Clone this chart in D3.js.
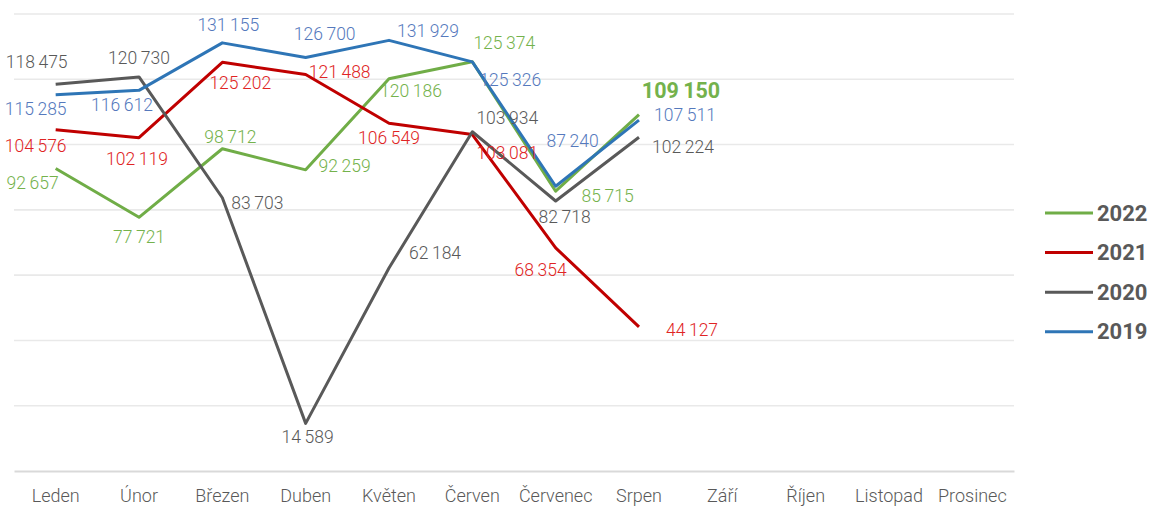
<!DOCTYPE html>
<html>
<head>
<meta charset="utf-8">
<script src="https://cdn.jsdelivr.net/npm/d3@7"></script>
<style>
  body { margin: 0; background: #fff; }
  text { font-family: Roboto, "Noto Sans", sans-serif; }
</style>
</head>
<body>
<div id="chart"></div>
<script>
// data
var months = ["Leden", "Únor", "Březen", "Duben", "Květen", "Červen", "Červenec", "Srpen", "Září", "Říjen", "Listopad", "Prosinec"];
var years = ["2022", "2021", "2020", "2019"];
var values2022 = [92657, 77721, 98712, 92259, 120186, 125374, 85715, 109150];
var values2021 = [104576, 102119, 125202, 121488, 106549, 103081, 68354, 44127];
var values2020 = [118475, 120730, 83703, 14589, 62184, 103934, 82718, 102224];
var values2019 = [115285, 116612, 131155, 126700, 131929, 125326, 87240, 107511];
var gridTicks = [0, 20000, 40000, 60000, 80000, 100000, 120000, 140000];

// label placement (pixel offsets from each point)
var labelOffsets = {
    "2022": [[-23, 14], [0, 20], [8, -12], [39, -4], [22, 12], [32, -19], [52, 5], [42, -24]],
    "2021": [[-20, 16], [-2, 21], [18, 21], [34, -2], [0, 15], [35, 18], [-15, 22], [53, 3]],
    "2020": [[-19, -22], [0, -19], [35, 5], [2, 14], [46, -15], [35, -14], [9, 16], [44, 10]],
    "2019": [[-20, 14], [-17, 15], [6, -18], [19, -23], [39, -9], [38, 18], [17, -45], [46, -5]]
};

var lineColors = {"2022": "#70ad47", "2021": "#c00000", "2020": "#595959", "2019": "#2e75b6"};
var labelColors = {"2022": "#74b24c", "2021": "#e02424", "2020": "#595959", "2019": "#5579bd"};

var series = [
    {year: "2022", values: values2022},
    {year: "2021", values: values2021},
    {year: "2020", values: values2020},
    {year: "2019", values: values2019}
];

var svgWidth = 1151;
var svgHeight = 506;

var svg = d3.select("#chart")
    .append("svg")
    .attr("width", svgWidth)
    .attr("height", svgHeight);

var xScale = d3.scaleBand()
    .domain(months)
    .range([14, 1014])
    .padding(0);

var yScale = d3.scaleLinear()
    .domain([0, 140000])
    .range([471, 14]);

function xPos(i) {
    return xScale(months[i]) + xScale.bandwidth() / 2;
}

// gridlines
svg.append("g")
    .selectAll("line")
    .data(gridTicks.slice(1))
    .enter()
    .append("line")
    .attr("x1", 14)
    .attr("x2", 1014)
    .attr("y1", d => yScale(d))
    .attr("y2", d => yScale(d))
    .attr("stroke", "#e9e9e9")
    .attr("stroke-width", 1.6);

// x axis
var xAxis = svg.append("g")
    .attr("transform", `translate(0, ${yScale(0)})`)
    .call(d3.axisBottom(xScale).tickSize(0).tickPadding(18));

xAxis.select(".domain")
    .attr("stroke", "#d9d9d9")
    .attr("stroke-width", 2);

xAxis.selectAll("text")
    .attr("fill", "#595959")
    .style("font-size", "18px")
    .style("font-weight", "300")
    .style("font-family", "Roboto, sans-serif");

// lines
var line = d3.line()
    .x((d, i) => xPos(i))
    .y(d => yScale(d));

svg.append("g")
    .selectAll("path")
    .data(series)
    .enter()
    .append("path")
    .attr("d", d => line(d.values))
    .attr("fill", "none")
    .attr("stroke", d => lineColors[d.year])
    .attr("stroke-width", 3)
    .attr("stroke-linejoin", "round");

// data labels
function fmt(v) {
    return d3.format(",")(v).replace(/,/g, "\u2009");
}

series.forEach(function(s) {
    var last = s.values.length - 1;
    svg.append("g")
        .selectAll("text")
        .data(s.values)
        .enter()
        .append("text")
        .attr("x", (d, i) => xPos(i) + labelOffsets[s.year][i][0])
        .attr("y", (d, i) => yScale(d) + labelOffsets[s.year][i][1])
        .attr("text-anchor", "middle")
        .attr("dominant-baseline", "central")
        .attr("fill", labelColors[s.year])
        .style("font-size", (d, i) => (s.year === "2022" && i === last) ? "21.5px" : "17.5px")
        .style("font-weight", (d, i) => (s.year === "2022" && i === last) ? "bold" : "300")
        .text(d => fmt(d));
});

// legend
var legend = svg.append("g")
    .attr("transform", "translate(1045, 213)");

var legendItems = legend.selectAll("g")
    .data(years)
    .enter()
    .append("g")
    .attr("transform", (d, i) => `translate(0, ${i * 39.6})`);

legendItems.append("line")
    .attr("x1", 0)
    .attr("x2", 48)
    .attr("stroke", d => lineColors[d])
    .attr("stroke-width", 3);

legendItems.append("text")
    .attr("x", 52)
    .attr("dominant-baseline", "central")
    .attr("fill", "#595959")
    .style("font-size", "22px")
    .style("font-weight", "bold")
    .text(d => d);
</script>
</body>
</html>
